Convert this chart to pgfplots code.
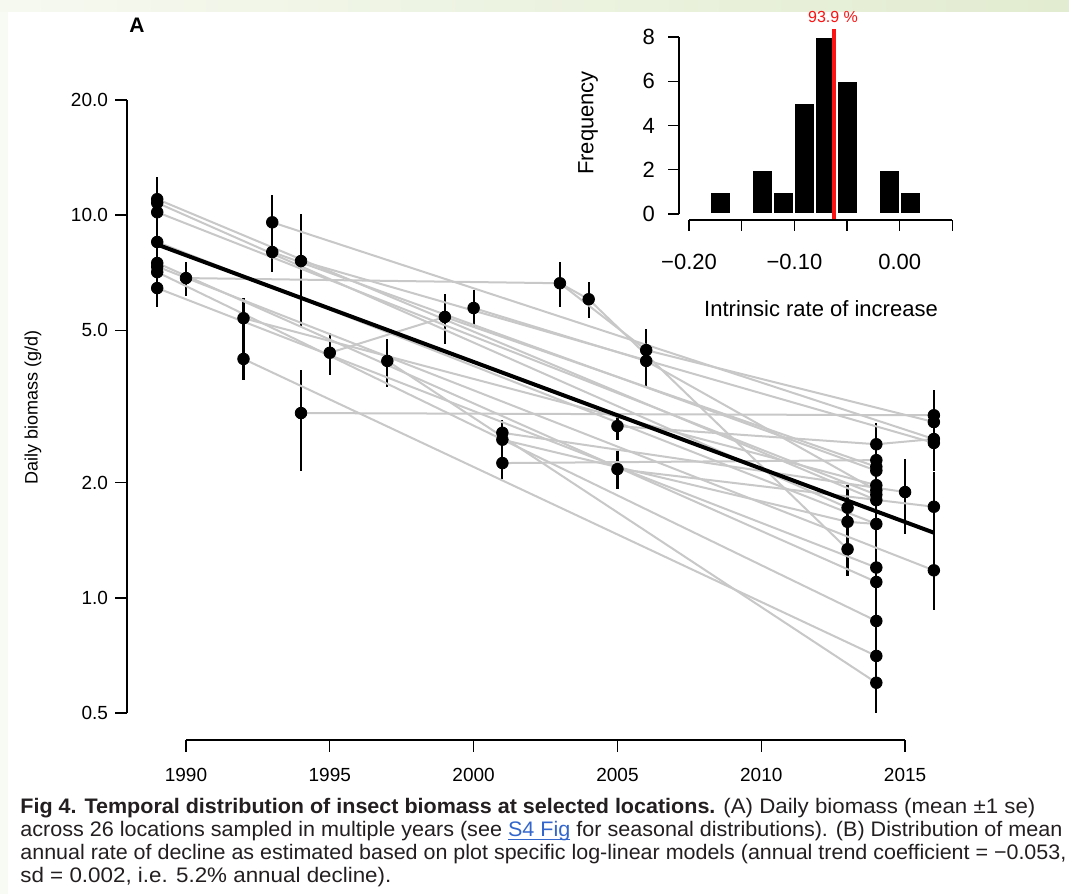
\documentclass[border=0pt]{standalone}
\usepackage{fontspec}
\setmainfont{Liberation Sans}
\usepackage{graphicx}
\usepackage{pgfplots}
\usepackage{pgfplotstable}
\pgfplotsset{compat=1.18}
\definecolor{gline}{RGB}{200,200,200}
\definecolor{captxt}{RGB}{35,31,32}
\definecolor{linkblue}{RGB}{51,102,204}
\definecolor{bandA}{RGB}{246,249,240}
\definecolor{bandB}{RGB}{226,236,208}
\definecolor{stripL}{RGB}{248,250,244}
\definecolor{histred}{RGB}{250,20,20}
\newcommand\lnk[1]{\setbox0\hbox{#1}\rlap{\raisebox{-1.8pt}{\rule{\wd0}{0.5pt}}}\box0}

% year, mean daily biomass, se
\pgfplotstableread{
year val se
1989 11.01 1.6
1989 10.77 1.2
1989 10.18 1.0
1989 8.51 1.0
1989 7.50 0.8
1989 7.34 0.7
1989 7.10 0.8
1989 6.45 0.7
1990 6.85 0.7
1992 5.38 0.7
1992 4.21 0.5
1993 9.58 1.7
1993 8.01 0.9
1994 7.59 2.5
1994 3.04 0.9
1995 4.37 0.55
1997 4.16 0.6
1999 5.42 0.8
2000 5.72 0.65
2001 2.70 0.22
2001 2.59 0.2
2001 2.25 0.2
2003 6.64 0.9
2004 6.03 0.65
2005 2.81 0.23
2005 2.17 0.25
2006 4.44 0.6
2006 4.16 0.6
2013 1.72 0.25
2013 1.58 0.2
2013 1.34 0.2
2014 2.52 0.34
2014 2.29 0.3
2014 2.20 0.3
2014 2.15 0.3
2014 1.97 0.3
2014 1.91 0.3
2014 1.86 0.3
2014 1.80 0.3
2014 1.56 0.3
2014 1.20 0.25
2014 1.10 0.25
2014 0.87 0.2
2014 0.705 0.15
2014 0.60 0.1
2015 1.89 0.42
2016 3.00 0.49
2016 2.88 0.4
2016 2.60 0.4
2016 2.54 0.4
2016 1.73 0.4
2016 1.18 0.25
}\points

\begin{document}
\begin{tikzpicture}
\useasboundingbox (0,0) rectangle (534.5pt,447pt);
\fill[white] (0,0) rectangle (534.5pt,447pt);
\shade[left color=bandA, right color=bandB] (0,441pt) rectangle (534.5pt,447pt);
\fill[stripL] (0,0) rectangle (4pt,441pt);

\begin{axis}[
  at={(63.5pt,77pt)}, anchor=south west,
  scale only axis, width=417.8pt, height=320pt,
  xmin=1987.95, xmax=2017,
  ymode=log, ymin=0.4251, ymax=20,
  axis x line*=bottom, axis y line*=left,
  axis line style={draw=none},
  xtick={1990,1995,2000,2005,2010,2015},
  xticklabels={1990,1995,2000,2005,2010,2015},
  ytick={0.5,1,2,5,10,20},
  yticklabels={0.5,1.0,2.0,5.0,10.0,20.0},
  yminorticks=false,
  tick align=outside, major tick length=6pt,
  tick style={black, line width=0.7pt},
  ticklabel style={font=\fontsize{9.5}{11}\selectfont},
  xticklabel style={yshift=-4.5pt},
  clip=false,
]
\addplot[only marks, mark=*, mark size=2.9pt, black,
  error bars/.cd, y dir=both, y explicit,
  error bar style={line width=1.1pt, black}, error mark=none]
  table[x=year, y=val, y error=se] {\points};

% one grey line per location
\addplot[gline, line width=1pt] coordinates {(1989,11.01)(2014,1.80)};
\addplot[gline, line width=1pt] coordinates {(1989,10.77)(2013,1.72)};
\addplot[gline, line width=1pt] coordinates {(1989,10.18)(2014,1.86)};
\addplot[gline, line width=1pt] coordinates {(1989,8.51)(2014,1.56)};
\addplot[gline, line width=1pt] coordinates {(1989,7.50)(2014,1.10)};
\addplot[gline, line width=1pt] coordinates {(1989,7.34)(2016,1.18)};
\addplot[gline, line width=1pt] coordinates {(1989,7.10)(2014,0.87)};
\addplot[gline, line width=1pt] coordinates {(1989,6.45)(2014,1.20)};
\addplot[gline, line width=1pt] coordinates {(1990,6.85)(2003,6.64)(2004,6.03)(2013,1.34)};
\addplot[gline, line width=1pt] coordinates {(2003,6.64)(2006,4.44)(2016,2.88)};
\addplot[gline, line width=1pt] coordinates {(1992,5.38)(2014,1.97)};
\addplot[gline, line width=1pt] coordinates {(1992,4.21)(2014,0.705)};
\addplot[gline, line width=1pt] coordinates {(1993,9.58)(2016,2.60)};
\addplot[gline, line width=1pt] coordinates {(1993,8.01)(2014,2.15)};
\addplot[gline, line width=1pt] coordinates {(1994,7.59)(2016,2.54)};
\addplot[gline, line width=1pt] coordinates {(1994,3.04)(2016,3.00)};
\addplot[gline, line width=1pt] coordinates {(1995,4.37)(1999,5.42)(2014,2.20)};
\addplot[gline, line width=1pt] coordinates {(2000,5.72)(2006,4.16)(2014,1.91)};
\addplot[gline, line width=1pt] coordinates {(1997,4.16)(2014,0.60)};
\addplot[gline, line width=1pt] coordinates {(2001,2.70)(2015,1.89)};
\addplot[gline, line width=1pt] coordinates {(2001,2.59)(2013,1.58)};
\addplot[gline, line width=1pt] coordinates {(2001,2.25)(2014,2.29)};
\addplot[gline, line width=1pt] coordinates {(2005,2.81)(2014,2.52)};
\addplot[gline, line width=1pt] coordinates {(2005,2.17)(2016,1.73)};
\addplot[gline, line width=1pt] coordinates {(2014,2.52)(2016,2.60)};
\addplot[gline, line width=1pt] coordinates {(2013,1.58)(2014,1.56)};

% log-linear trend
\addplot[black, line width=2pt] coordinates {(1989,8.38)(2016,1.48)};

\draw[line width=0.7pt] (axis cs:1990,0.4251) -- (axis cs:2015,0.4251);
\draw[line width=0.7pt] (axis cs:1987.95,0.5) -- (axis cs:1987.95,20);
\end{axis}

\node[rotate=90, font=\fontsize{9}{11}\selectfont] at (16.5pt,243.5pt) {Daily biomass (g/d)};
\node[font=\fontsize{10.5}{12}\bfseries] at (68.5pt,434.5pt) {A};

% inset histogram
\begin{axis}[
  at={(339.5pt,337pt)}, anchor=south west,
  scale only axis, width=142pt, height=95.9pt,
  xmin=-0.2095, xmax=0.06, ymin=-0.271, ymax=8.4,
  axis x line*=bottom, axis y line*=left,
  axis line style={draw=none},
  xtick={-0.2,-0.15,-0.1,-0.05,0,0.05},
  xticklabels={−0.20,,−0.10,,0.00,},
  ytick={0,2,4,6,8}, yticklabels={0,2,4,6,8},
  tick align=outside, major tick length=5.5pt,
  tick style={black, line width=0.7pt},
  ticklabel style={font=\fontsize{11}{13}\selectfont},
  xticklabel style={yshift=-8pt},
  yticklabel style={xshift=-3pt},
  clip=false,
]
\addplot[ybar interval, fill=black, draw=white, line width=1pt]
  coordinates {(-0.18,1)(-0.16,0)(-0.14,2)(-0.12,1)(-0.10,5)(-0.08,8)(-0.06,6)(-0.04,0)(-0.02,2)(0,1)(0.02,0)};
\addplot[histred, line width=2pt] coordinates {(-0.0625,-0.271)(-0.0625,8.35)};
\draw[line width=0.7pt] (axis cs:-0.2,-0.271) -- (axis cs:0.05,-0.271);
\draw[line width=0.7pt] (axis cs:-0.2095,0) -- (axis cs:-0.2095,8);
\end{axis}
\node[histred, font=\fontsize{8}{10}\selectfont] at (416.5pt,438.5pt) {93.9 \%};
\node[rotate=90, font=\fontsize{11}{13}\selectfont] at (294pt,385.5pt) {Frequency};
\node[font=\fontsize{11}{13}\selectfont] at (410.5pt,292.5pt) {Intrinsic rate of increase};

% caption
\begin{scope}[every node/.style={anchor=west, inner sep=0pt, text=captxt, font=\fontsize{10.5}{12}\selectfont}]
\node at (10pt,43pt) {\resizebox{347.5pt}{\height}{\textbf{Fig 4. Temporal distribution of insect biomass at selected locations.}}};
\node at (361.5pt,43pt) {\resizebox{156pt}{\height}{(A) Daily biomass (mean ±1 se)}};
\node at (10pt,31.5pt) {\resizebox{521pt}{\height}{across 26 locations sampled in multiple years (see \textcolor{linkblue}{\lnk{S4 Fig}} for seasonal distributions). (B) Distribution of mean}};
\node at (10pt,20pt) {\resizebox{523pt}{\height}{annual rate of decline as estimated based on plot specific log-linear models (annual trend coefficient = −0.053,}};
\node at (10pt,8.5pt) {\resizebox{185.5pt}{\height}{sd = 0.002, i.e. 5.2\% annual decline).}};
\end{scope}
\end{tikzpicture}
\end{document}
